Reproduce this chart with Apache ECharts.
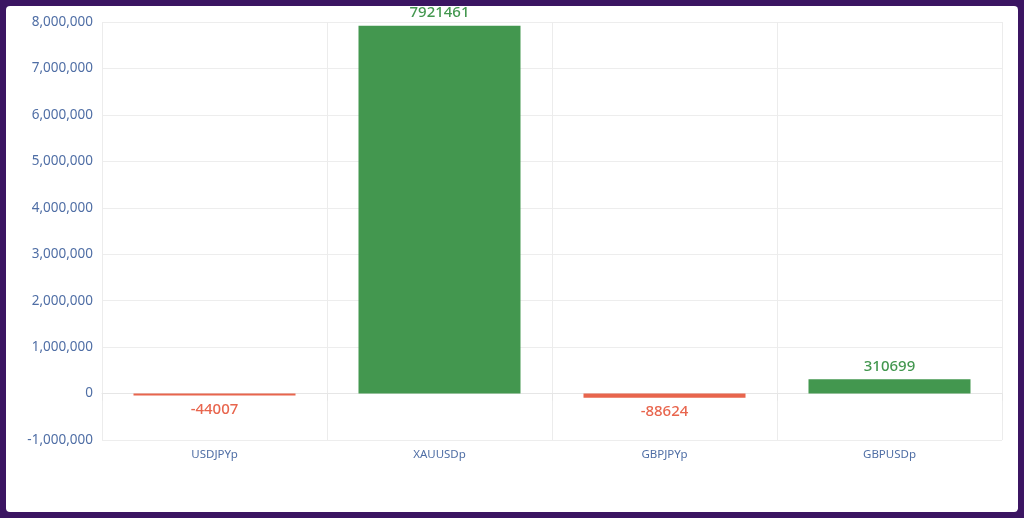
<!DOCTYPE html>
<html><head><meta charset="utf-8">
<script src="https://cdn.jsdelivr.net/npm/echarts@6/dist/echarts.min.js"></script>
<style>
html,body{margin:0;padding:0;width:1024px;height:518px;background:#3b1562;overflow:hidden;}
#panel{position:absolute;left:6px;top:6px;width:1012px;height:506px;background:#fff;border-radius:4px;}
#chart{width:1012px;height:506px;}
</style></head>
<body><div id="panel"><div id="chart"></div></div>
<script>
const categories = ['USDJPYp','XAUUSDp','GBPJPYp','GBPUSDp'];
const values = [-44007, 7921461, -88624, 310699];
const yMin = -1000000, yMax = 8000000, yStep = 1000000;
const POS = '#43974f', NEG = '#e8654d';
const font = '"Noto Sans", sans-serif';
const chart = echarts.init(document.getElementById('chart'));
chart.setOption({
  animation:false,
  textStyle:{fontFamily:font},
  grid:{left:96,right:16,top:16,bottom:72},
  xAxis:{type:'category',data:categories,
    axisLine:{show:true,lineStyle:{color:'#e6e6e6',width:1}},
    axisTick:{show:true,length:7,lineStyle:{color:'#e6e6e6'}},
    splitLine:{show:true,lineStyle:{color:'#ececec'}},
    axisLabel:{color:'#4f6ea5',fontSize:11.5,margin:9,fontFamily:font}},
  yAxis:{type:'value',min:yMin,max:yMax,interval:yStep,
    axisLine:{show:false},axisTick:{show:false},
    splitLine:{lineStyle:{color:'#ededed'}},
    axisLabel:{color:'#4f6ea5',fontSize:13.5,margin:9,fontFamily:font,
      formatter:v=>v.toLocaleString('en-US')}},
  series:[{type:'bar',barWidth:'72%',
    data:values.map(v=>({value:v,
      itemStyle:{color:v>=0?POS:NEG},
      label:{show:true,position:v>=0?'top':'bottom',distance:v>=0?5:7,
        color:v>=0?POS:NEG,fontSize:15,fontWeight:500,fontFamily:font}}))}]
});
</script></body></html>
